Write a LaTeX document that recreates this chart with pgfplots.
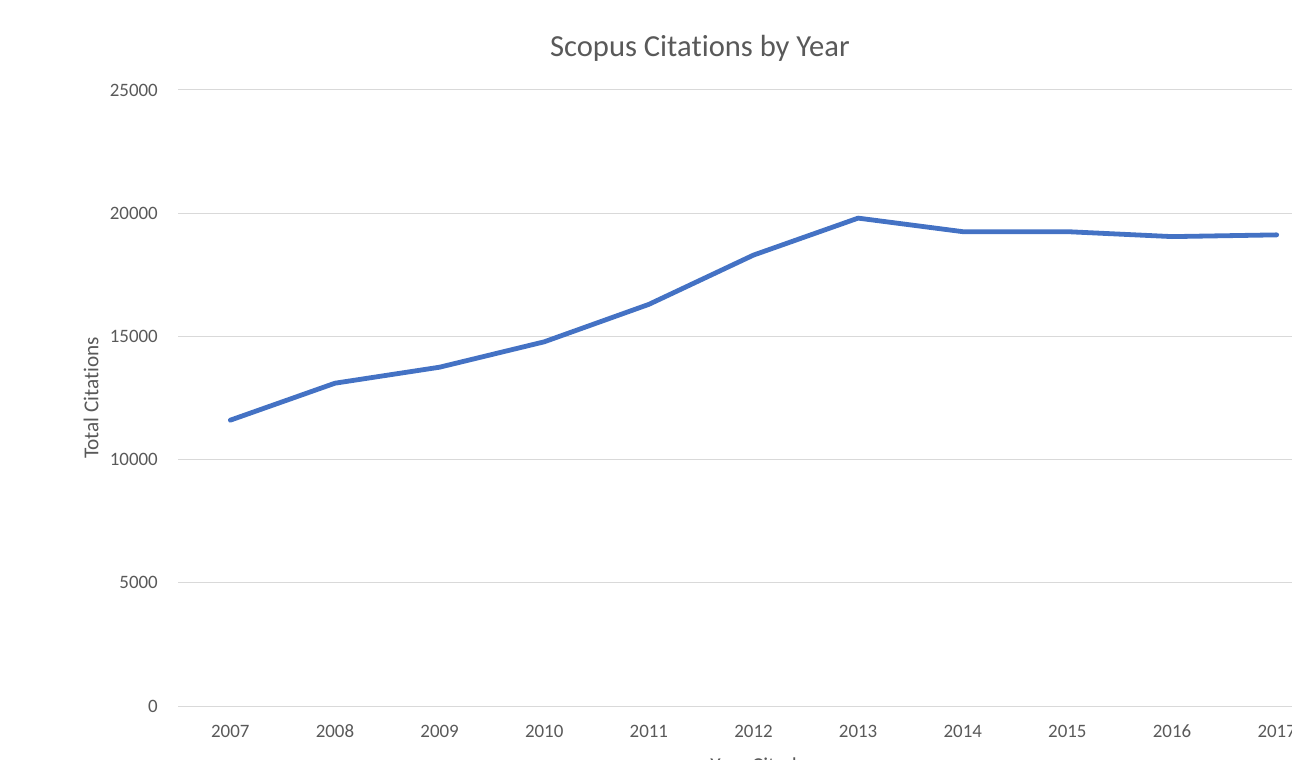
\documentclass[border=0pt]{standalone}
\usepackage{fontspec}
\setmainfont{Carlito}[Ligatures=CommonOff]
\usepackage{pgfplots}
\pgfplotsset{compat=1.18}

\definecolor{txtgray}{RGB}{89,89,89}
\definecolor{gridgray}{RGB}{217,217,217}
\definecolor{xlblue}{RGB}{68,114,196}

\begin{document}
\begin{tikzpicture}
	\begin{axis}[
			scale only axis,
			width=1151bp, height=616bp,
			anchor=south west, at={(178bp,54bp)},
			xmin=2006.5, xmax=2017.5,
			ymin=0, ymax=25000,
			xtick={2007,2008,...,2017},
			ytick={0,5000,10000,15000,20000,25000},
			scaled y ticks=false,
			ymajorgrids=true,
			grid style={gridgray, line width=1bp},
			axis x line=bottom, axis y line=left,
			axis line style={-},
			x axis line style={gridgray, line width=1bp},
			y axis line style={draw=none},
			major tick length=0pt,
			/pgf/number format/1000 sep=,
			/pgf/number format/assume math mode=true,
			ticklabel style={font=\fontsize{19}{23}\selectfont, text=txtgray, inner sep=0pt},
			xticklabel style={anchor=center, yshift=-25bp},
			yticklabel style={anchor=east, xshift=-20bp},
			title={Scopus Citations by Year},
			title style={at={(rel axis cs:0.4535,1)}, anchor=center, yshift=36bp,
				font=\fontsize{30.7}{36}\selectfont, text=txtgray, inner sep=0pt},
			ylabel={Total Citations},
			ylabel style={at={(rel axis cs:-0.0756,0.5)}, anchor=center, rotate=0,
				font=\fontsize{21.3}{25}\selectfont, text=txtgray, inner sep=0pt},
			xlabel={Year Cited},
			xlabel style={at={(rel axis cs:0.5,0)}, anchor=north, yshift=-52bp,
				font=\fontsize{21.3}{25}\selectfont, text=txtgray, inner sep=0pt},
			clip=false
		]
		\addplot[color=xlblue, line width=4.8bp, line join=round, line cap=round] coordinates {
				(2007,11600)(2008,13100)(2009,13750)(2010,14780)(2011,16300)(2012,18300)
				(2013,19800)(2014,19250)(2015,19250)(2016,19050)(2017,19120)
			};
	\end{axis}
	\pgfresetboundingbox
	\path[use as bounding box] (0,0) rectangle (1292bp,760bp);
\end{tikzpicture}
\end{document}
